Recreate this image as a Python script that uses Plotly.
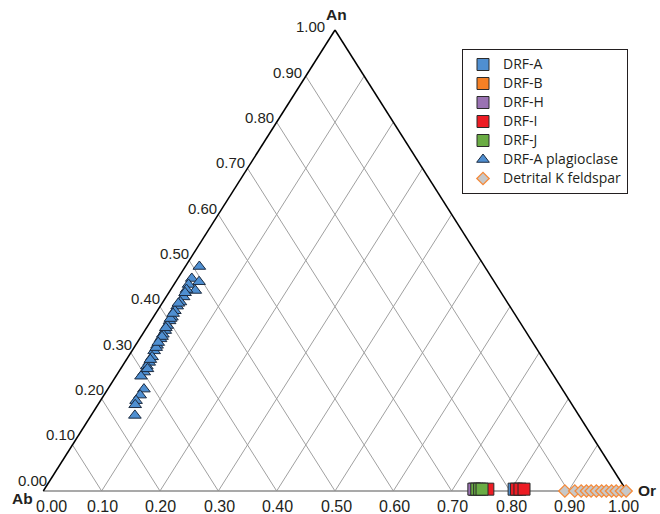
import plotly.graph_objects as go

# ---------------------------------------------------------------
# Feldspar compositions as molar fractions (An, Or); Ab = 1 - An - Or
# ---------------------------------------------------------------
drf_a_an = [0.004]
drf_a_or = [0.805]

drf_b_an = [0.004]
drf_b_or = [0.738]

drf_h_an = [0.004]
drf_h_or = [0.736]

drf_i_an = [0.004, 0.004, 0.004, 0.004]
drf_i_or = [0.760, 0.809, 0.815, 0.822]

drf_j_an = [0.004, 0.004, 0.004]
drf_j_or = [0.741, 0.746, 0.750]

plag_an = [0.487, 0.461, 0.454, 0.448, 0.435, 0.437, 0.421, 0.410, 0.401, 0.391,
           0.377, 0.369, 0.359, 0.348, 0.340, 0.330, 0.316, 0.304, 0.291, 0.279,
           0.271, 0.258, 0.249, 0.221, 0.208, 0.196, 0.187, 0.164, 0.374, 0.354,
           0.335, 0.311, 0.285, 0.265, 0.407, 0.430, 0.385, 0.322]
plag_or = [0.024, 0.024, 0.040, 0.025, 0.043, 0.027, 0.030, 0.030, 0.029, 0.030,
           0.032, 0.032, 0.033, 0.035, 0.035, 0.036, 0.037, 0.038, 0.041, 0.042,
           0.042, 0.044, 0.043, 0.062, 0.062, 0.061, 0.064, 0.075, 0.031, 0.033,
           0.036, 0.038, 0.041, 0.046, 0.028, 0.028, 0.030, 0.036]

kfs_an = [0.0, 0.0, 0.0, 0.0, 0.0, 0.0, 0.0, 0.0, 0.0, 0.0, 0.0, 0.0]
kfs_or = [0.894, 0.911, 0.922, 0.931, 0.939, 0.948, 0.957, 0.965, 0.974, 0.982,
          0.991, 0.999]

tick_values = [0.0, 0.1, 0.2, 0.3, 0.4, 0.5, 0.6, 0.7, 0.8, 0.9, 1.0]
tick_labels = ["0.00", "0.10", "0.20", "0.30", "0.40", "0.50",
               "0.60", "0.70", "0.80", "0.90", "1.00"]
apex_names = ["An", "Ab", "Or"]

INK = "#231f20"
TICK_FONT = "Liberation Sans, Arial, sans-serif"
LEGEND_FONT = "Open Sans, sans-serif"


def tern_xy(an, orr):
    """Project (An, Or) fractions onto the plane: Ab at origin, Or at x=1, An on top."""
    xs = [o + a / 2.0 for a, o in zip(an, orr)]
    ys = [a for a in an]
    return xs, ys


def legend_label(text):
    return '<span style="font-size:14px">%s</span>' % text


fig = go.Figure()

# ---- diagonal grid (constant Or and constant Ab lines) ----
gx, gy = [], []
for v in tick_values[1:-1]:
    xs, ys = tern_xy([0.0, 1.0 - v], [v, v])          # constant Or
    gx += xs + [None]
    gy += ys + [None]
    xs, ys = tern_xy([0.0, 1.0 - v], [1.0 - v, 0.0])  # constant Ab
    gx += xs + [None]
    gy += ys + [None]
fig.add_trace(go.Scatter(x=gx, y=gy, mode="lines", showlegend=False, hoverinfo="skip",
                         line=dict(color="#a0a0a0", width=1)))

# ---- triangle frame ----
bx, by = tern_xy([0.0, 0.0], [0.0, 1.0])
fig.add_trace(go.Scatter(x=bx, y=by, mode="lines", showlegend=False, hoverinfo="skip",
                         line=dict(color="#8c8c8c", width=1.4)))
ex1, ey1 = tern_xy([0.0, 1.0], [0.0, 0.0])
ex2, ey2 = tern_xy([1.0, 0.0], [0.0, 1.0])
fig.add_trace(go.Scatter(x=ex1 + [None] + ex2, y=ey1 + [None] + ey2, mode="lines",
                         showlegend=False, hoverinfo="skip",
                         line=dict(color="#000000", width=1.5)))

# ---- bulk feldspar analyses ----
square_series = [
    ("DRF-A", drf_a_an, drf_a_or, "#4f8fd1"),
    ("DRF-B", drf_b_an, drf_b_or, "#f58025"),
    ("DRF-H", drf_h_an, drf_h_or, "#9a72b3"),
    ("DRF-I", drf_i_an, drf_i_or, "#ed1c24"),
    ("DRF-J", drf_j_an, drf_j_or, "#6aac44"),
]
for name, an, orr, color in square_series:
    xs, ys = tern_xy(an, orr)
    fig.add_trace(go.Scatter(
        x=xs, y=ys, mode="markers", name=legend_label(name), cliponaxis=False,
        marker=dict(symbol="square", size=12, color=color,
                    line=dict(color="#2b2b2b", width=1))))

xs, ys = tern_xy(plag_an, plag_or)
fig.add_trace(go.Scatter(
    x=xs, y=ys, mode="markers", name=legend_label("DRF-A plagioclase"), cliponaxis=False,
    marker=dict(symbol="triangle-up", size=11, color="#4f8fd1",
                line=dict(color="#1c2b40", width=1))))

xs, ys = tern_xy(kfs_an, kfs_or)
fig.add_trace(go.Scatter(
    x=xs, y=ys, mode="markers", name=legend_label("Detrital K feldspar"), cliponaxis=False,
    marker=dict(symbol="diamond", size=9.5, color="#c8c8c8",
                line=dict(color="#f58a3a", width=1.3))))

# ---- tick labels ----
annotations = []
for v, lab in zip(tick_values, tick_labels):
    # Or scale along the base
    xs, ys = tern_xy([0.0], [v])
    if v == 0.0:
        bshift = 8
    elif v == 1.0:
        bshift = -3
    else:
        bshift = 1
    annotations.append(dict(x=xs[0], y=ys[0], xref="x", yref="y", text=lab,
                            showarrow=False, xanchor="center", yanchor="middle",
                            xshift=bshift, yshift=-15,
                            font=dict(family=TICK_FONT, size=16, color=INK)))
    # An scale along the left edge
    xs, ys = tern_xy([v], [0.0])
    annotations.append(dict(x=xs[0], y=ys[0], xref="x", yref="y", text=lab,
                            showarrow=False, xanchor="right", yanchor="middle",
                            xshift=-8 if v == 1.0 else 5.5 - 8 * v,
                            yshift=4 if v == 1.0 else 11 - 8 * v,
                            font=dict(family=TICK_FONT, size=15, color=INK)))

# ---- apex names ----
apex_an = [1.0, 0.0, 0.0]
apex_or = [0.0, 0.0, 1.0]
apex_shift = [(1.5, 16), (-21, -7), (20, 1)]
ax_, ay_ = tern_xy(apex_an, apex_or)
for name, x, y, (dx, dy) in zip(apex_names, ax_, ay_, apex_shift):
    annotations.append(dict(x=x, y=y, xref="x", yref="y", text="<b>%s</b>" % name,
                            showarrow=False, xanchor="center", yanchor="middle",
                            xshift=dx, yshift=dy, borderpad=0,
                            font=dict(family=TICK_FONT, size=15.5, color=INK)))

# axis ranges chosen so the base spans x 0..1 and the apex sits at y = 1
W, H = 660, 514
x_left_px, x_right_px, y_base_px, y_top_px = 43.3, 626.7, 491.0, 30.0
sx = x_right_px - x_left_px
sy = y_base_px - y_top_px
x_range = [-x_left_px / sx, (W - x_left_px) / sx]
y_range = [-(H - y_base_px) / sy, 1.0 + y_top_px / sy]

fig.update_layout(
    width=W, height=H,
    margin=dict(l=0, r=0, t=0, b=0),
    paper_bgcolor="white", plot_bgcolor="white",
    xaxis=dict(range=x_range, visible=False, fixedrange=True),
    yaxis=dict(range=y_range, visible=False, fixedrange=True),
    annotations=annotations,
    showlegend=True,
    legend=dict(x=462 / W, y=1 - 49 / H, xanchor="left", yanchor="top",
                bgcolor="white", bordercolor=INK, borderwidth=1,
                font=dict(family=LEGEND_FONT, size=12.2, color=INK),
                tracegroupgap=0),
)

fig.write_html("out.html")
